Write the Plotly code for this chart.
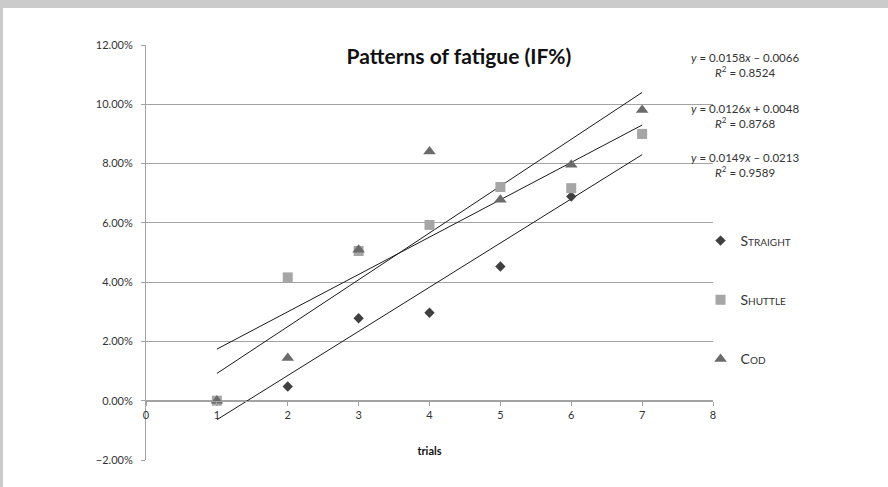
import numpy as np
import plotly.graph_objects as go

# ---- data ----
trials = [1, 2, 3, 4, 5, 6, 7]
series_names = ["Straight", "Shuttle", "Cod"]
straight = [0.0000, 0.0048, 0.0278, 0.0297, 0.0453, 0.0689, 0.0900]
shuttle = [0.0000, 0.0416, 0.0505, 0.0593, 0.0721, 0.0717, 0.0900]
cod = [0.0000, 0.0144, 0.0509, 0.0841, 0.0678, 0.0796, 0.0981]

# trendline coefficients (as printed on the chart)
slopes = [0.0149, 0.0126, 0.0158]
intercepts = [-0.0213, 0.0048, -0.0066]
r_squared = [0.9589, 0.8768, 0.8524]

y_ticks = [-0.02, 0.0, 0.02, 0.04, 0.06, 0.08, 0.10, 0.12]
x_ticks = [0, 1, 2, 3, 4, 5, 6, 7, 8]

FONT = "Lato"
TXT = "#333333"
GRID = "#a3a3a3"

marker_styles = [
    dict(symbol="diamond", color="#404040", size=8),
    dict(symbol="square", color="#a6a6a6", size=10),
    dict(symbol="triangle-up", color="#6b6b6b", size=11),
]
values = [straight, shuttle, cod]

fig = go.Figure()

# trendlines
xs = np.array([min(trials), max(trials)], dtype=float)
for i in range(3):
    fig.add_trace(go.Scatter(
        x=xs, y=slopes[i] * xs + intercepts[i], mode="lines",
        line=dict(color="#1a1a1a", width=1), showlegend=False, hoverinfo="skip"))

for i in range(3):
    fig.add_trace(go.Scatter(
        x=trials, y=values[i], mode="markers", name=series_names[i],
        legendgroup=series_names[i],
        marker=dict(symbol=marker_styles[i]["symbol"], color=marker_styles[i]["color"],
                    size=marker_styles[i]["size"], line=dict(width=0))))

# equation labels
eq_y = [0.711, 0.829, 0.952]
for i in range(3):
    sign = "–" if intercepts[i] < 0 else "+"
    txt = (f"<i>y</i> = {slopes[i]:.4f}<i>x</i> {sign} {abs(intercepts[i]):.4f}"
           f"<br><i>R</i><sup>2</sup> = {r_squared[i]:.4f}")
    fig.add_annotation(x=1.0573, y=eq_y[i], xref="paper", yref="paper", text=txt,
                       showarrow=False, align="center", xanchor="center", yanchor="middle",
                       font=dict(family=FONT, size=11.5, color=TXT))

# gray frame bands
fig.add_shape(type="rect", xref="paper", yref="paper", x0=-0.3, x1=1.4, y0=1.0892, y1=1.2,
              fillcolor="#cbcbcb", line=dict(width=0), layer="below")
fig.add_shape(type="rect", xref="paper", yref="paper", x0=-0.3, x1=-0.2522, y0=-0.1, y1=1.2,
              fillcolor="#cbcbcb", line=dict(width=0), layer="below")

fig.update_layout(
    width=888, height=487,
    margin=dict(l=146, r=175, t=45, b=27),
    paper_bgcolor="white", plot_bgcolor="white",
    font=dict(family=FONT, size=11, color=TXT),
    title=dict(text="Patterns of fatigue (IF%)", x=0.552, xref="paper", xanchor="center",
               y=1 - 57 / 487, yref="container", yanchor="middle",
               font=dict(family=FONT, size=21, color="#111111", weight="bold")),
    showlegend=True,
    legend=dict(x=0.978, xanchor="left", y=0.3855, yanchor="middle",
                bgcolor="rgba(0,0,0,0)", tracegroupgap=38,
                font=dict(family=FONT, size=14, color=TXT, variant="small-caps")),
    xaxis=dict(range=[0, 8], tickvals=x_ticks, showgrid=False, zeroline=False,
               showline=True, linecolor=GRID, linewidth=1,
               ticks="outside", ticklen=4, tickcolor=GRID,
               anchor="free", position=2 / 14,
               tickfont=dict(family=FONT, size=11, color=TXT),
               title=dict(text="trials", standoff=27,
                          font=dict(family=FONT, size=11, color="#111111", weight="bold"))),
    yaxis=dict(range=[-0.02, 0.12], tickvals=y_ticks, tickformat=".2%",
               showgrid=True, gridcolor=GRID, gridwidth=1, zeroline=False,
               showline=True, linecolor=GRID, linewidth=1,
               ticks="outside", ticklen=4, tickcolor=GRID, ticklabelstandoff=6,
               tickfont=dict(family=FONT, size=11, color=TXT)),
)

fig.write_html("out.html", config={"displayModeBar": False},
               post_script="document.body.style.margin='0';")
